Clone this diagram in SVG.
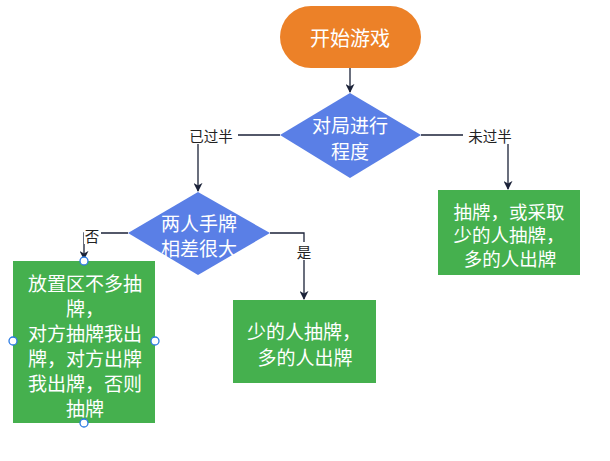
<svg xmlns="http://www.w3.org/2000/svg" width="610" height="461" viewBox="0 0 610 461">
<defs>
<marker id="ah" viewBox="0 0 10 10" refX="9" refY="5" markerWidth="9" markerHeight="9" markerUnits="userSpaceOnUse" orient="auto">
<path d="M0,0 L10,5 L0,10 L3,5 Z" fill="#1b2238"/>
</marker>
<style>
.t{font-family:"Noto Sans CJK SC","Liberation Sans",sans-serif;fill:#fff;font-size:19px;text-anchor:middle;dominant-baseline:central}
.b{font-size:20px}
.s{font-size:18.5px}
.l{font-family:"Noto Sans CJK SC","Liberation Sans",sans-serif;fill:#222;font-size:14.5px;text-anchor:middle;dominant-baseline:central}
.c{fill:none;stroke:#1b2238;stroke-width:1.3}
.g{fill:#45b04e}
.h{fill:#fff;stroke:#2a7ae2;stroke-width:1.3}
</style>
</defs>
<rect width="610" height="461" fill="#fff"/>
<g id="connectors">
<path class="c" d="M350,68 V92" marker-end="url(#ah)"/>
<path class="c" d="M280,135 H198 V191" marker-end="url(#ah)"/>
<path class="c" d="M421,135 H508 V189" marker-end="url(#ah)"/>
<path class="c" d="M128,233 H84 V259" marker-end="url(#ah)"/>
<path class="c" d="M270,233 H304 V299" marker-end="url(#ah)"/>
<rect x="184" y="126" width="54" height="18" fill="#fff"/>
<text class="l" x="211" y="135">已过半</text>
<rect x="463" y="126" width="54" height="18" fill="#fff"/>
<text class="l" x="490" y="135">未过半</text>
<rect x="84" y="226" width="17" height="18" fill="#fff"/>
<text class="l" x="92" y="235">否</text>
<rect x="296" y="242" width="17" height="18" fill="#fff"/>
<text class="l" x="304" y="251">是</text>
</g>
<g id="start">
<rect x="280" y="6" width="141" height="62" rx="31" fill="#ec8128"/>
<text class="t b" x="350" y="37">开始游戏</text>
</g>
<g id="decision1">
<polygon points="350,93 421,135 350,178 280,135" fill="#5a7fe6"/>
<text class="t" x="350" y="124">对局进行</text>
<text class="t" x="350" y="150">程度</text>
</g>
<g id="decision2">
<polygon points="198,192 270,233 198,275 128,233" fill="#5a7fe6"/>
<text class="t" x="199" y="222">两人手牌</text>
<text class="t" x="199" y="247">相差很大</text>
</g>
<g id="boxRight">
<rect class="g" x="438" y="190" width="142" height="85"/>
<text class="t s" x="509" y="210.5">抽牌，或采取</text>
<text class="t s" x="509" y="234">少的人抽牌，</text>
<text class="t s" x="510" y="257.5">多的人出牌</text>
</g>
<g id="boxMid">
<rect class="g" x="233" y="300" width="143" height="83"/>
<text class="t" x="304" y="330">少的人抽牌，</text>
<text class="t" x="305" y="356">多的人出牌</text>
</g>
<g id="boxLeft">
<rect class="g" x="13" y="261" width="142" height="162"/>
<text class="t" x="85" y="282">放置区不多抽</text>
<text class="t" x="85" y="307">牌，</text>
<text class="t" x="85" y="332">对方抽牌我出</text>
<text class="t" x="85" y="357">牌，对方出牌</text>
<text class="t" x="85" y="382">我出牌，否则</text>
<text class="t" x="85" y="407">抽牌</text>
<circle class="h" cx="84" cy="261" r="4"/>
<circle class="h" cx="13" cy="341" r="4"/>
<circle class="h" cx="155" cy="341" r="4"/>
<circle class="h" cx="84" cy="423" r="4"/>
</g>
</svg>
